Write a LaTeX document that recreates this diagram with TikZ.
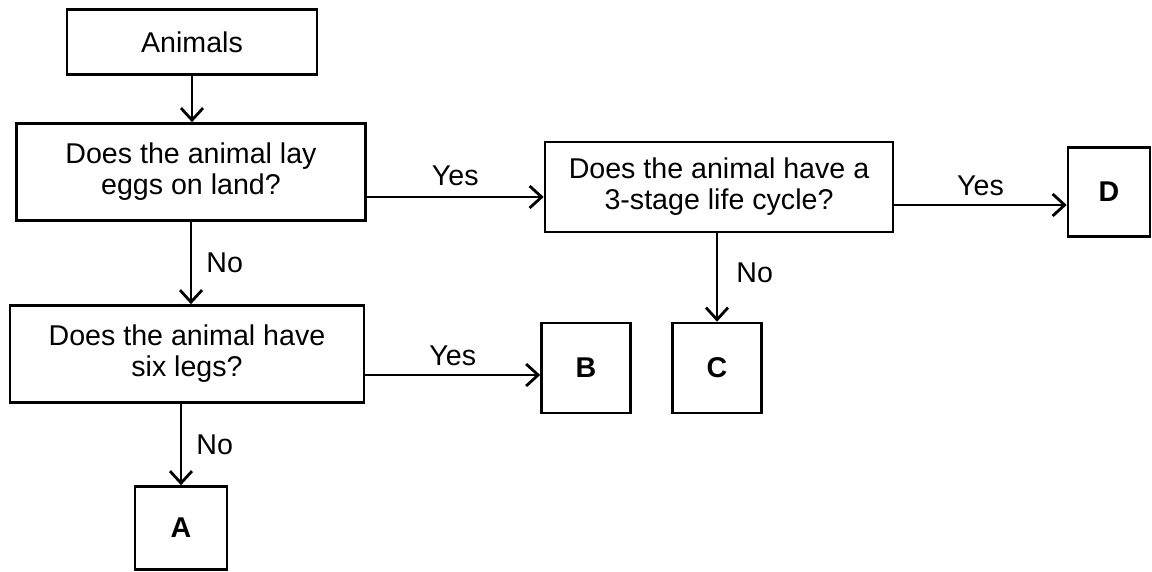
\documentclass[tikz,border=0pt]{standalone}
\usepackage{fontspec}
\setmainfont{Liberation Sans}
\usetikzlibrary{arrows.meta,calc}
\begin{document}
\begin{tikzpicture}[x=0.5pt,y=-0.5pt,
  box/.style={draw=black,line width=1.3pt,rectangle,align=center,inner sep=2pt,
    font=\fontsize{14.3}{15.5}\selectfont},
  letterbox/.style={box,font=\fontsize{14.3}{15.5}\selectfont\bfseries},
  arr/.style={line width=1.4pt,-{Straight Barb[length=6pt,width=11pt,line width=1.4pt]}},
  lbl/.style={font=\fontsize{14.3}{15.5}\selectfont,inner sep=1pt}]
\useasboundingbox (0,0) rectangle (1152,572);

\node[box,minimum width=125pt,minimum height=32.5pt] (animals) at (192,42) {Animals};
\node[box,minimum width=174.5pt,minimum height=48.5pt] (q1) at (191,172) {Does the animal lay\\eggs on land?};
\node[box,minimum width=174pt,minimum height=45pt] (q2) at (719,187) {Does the animal have a\\3-stage life cycle?};
\node[box,minimum width=177pt,minimum height=48.5pt] (q3) at (187,354) {Does the animal have\\six legs?};
\node[letterbox,minimum width=46pt,minimum height=41.5pt] (A) at (181,528) {A};
\node[letterbox,minimum width=44.5pt,minimum height=45pt] (B) at (586,368) {B};
\node[letterbox,minimum width=44.5pt,minimum height=45pt] (C) at (717,368) {C};
\node[letterbox,minimum width=41pt,minimum height=44.5pt] (D) at (1109,192) {D};

% Animals -> q1
\draw[arr] (animals.south) -- (animals.south |- q1.north);

% q1 -> q2 (Yes)
\draw[arr] ([yshift=-12.5pt]q1.east) -- ([yshift=-12.5pt]q1.east -| q2.west)
  node[lbl,midway,above=4pt] {Yes};

% q2 -> D (Yes)
\draw[arr] ([yshift=-9pt]q2.east) -- ([yshift=-9pt]q2.east -| D.west)
  node[lbl,midway,above=3pt] {Yes};

% q1 -> q3 (No)
\draw[arr] (q1.south) -- (q1.south |- q3.north)
  node[lbl,midway,right=6pt] {No};

% q2 -> C (No)
\draw[arr] (C.north |- q2.south) -- (C.north)
  node[lbl,pos=0.45,right=8pt] {No};

% q3 -> B (Yes)
\draw[arr] ([yshift=-10.5pt]q3.east) -- ([yshift=-10.5pt]q3.east -| B.west)
  node[lbl,midway,above=3pt] {Yes};

% q3 -> A (No)
\draw[arr] (A.north |- q3.south) -- (A.north)
  node[lbl,midway,right=6pt] {No};
\end{tikzpicture}
\end{document}
